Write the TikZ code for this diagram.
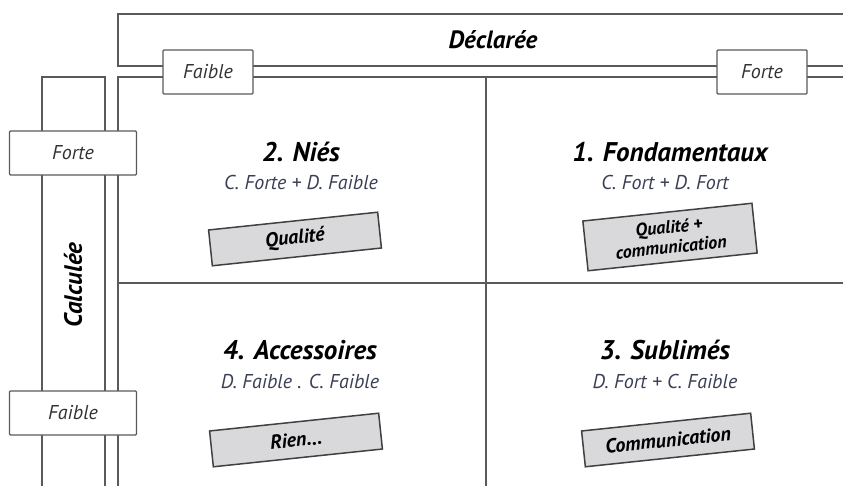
\documentclass[tikz,border=0pt]{standalone}
\usepackage{fontspec}
\setmainfont{PT Sans}
\definecolor{frame}{HTML}{5A5A5A}
\definecolor{subtxt}{HTML}{3A3F55}
\definecolor{boxgray}{HTML}{D9D9DB}
\tikzset{
  band/.style={draw=frame, line width=1.6pt},
  level/.style={
    draw=frame, fill=white, line width=1.4pt, rounded corners=1pt,
    minimum width=90, minimum height=44, inner sep=0pt,
    font=\itshape\fontsize{20}{22}\selectfont, text=black!80
  },
  axis/.style={font=\bfseries\itshape\fontsize{25}{28}\selectfont},
  quad/.style={font=\bfseries\itshape\fontsize{27}{30}\selectfont},
  combo/.style={font=\itshape\fontsize{20}{22}\selectfont, text=subtxt},
  action/.style={
    draw=black!75, fill=boxgray, line width=1.5pt, rotate=6,
    minimum width=170, minimum height=36, inner sep=1pt, align=center,
    font=\bfseries\itshape\fontsize{20}{22}\selectfont
  }
}
\begin{document}
\begin{tikzpicture}[x=1pt,y=-1pt]
  \useasboundingbox (0,0) rectangle (843,486);

  % bands for the two axes
  \draw[band] (850,14) -- (118,14) -- (118,66) -- (850,66);
  \draw[band] (42,490) -- (42,77) -- (105,77) -- (105,490);

  % the four quadrants
  \draw[band] (850,77) -- (118,77) -- (118,490);
  \draw[band] (486,77) -- (486,490);
  \draw[band] (118,283) -- (850,283);

  % axis names
  \node[axis] (decl) at (493,40) {Déclarée};
  \node[axis, rotate=90] (calc) at (73,285) {Calculée};

  % levels on each axis
  \node[level] (declLow) at (208,72) {Faible};
  \node[level] (declHigh) at (762,72) {Forte};
  \node[level, minimum width=127] (calcHigh) at (73,153) {Forte};
  \node[level, minimum width=127] (calcLow) at (73,413) {Faible};

  % quadrant titles
  \node[quad] (nies) at (301,152) {2. Niés};
  \node[combo] (niesSub) at (301,183) {C. Forte + D. Faible};
  \node[quad] (fond) at (670,152) {1. Fondamentaux};
  \node[combo] (fondSub) at (665,183) {C. Fort + D. Fort};
  \node[quad] (acc) at (300,350) {4. Accessoires};
  \node[combo] (accSub) at (300,381) {D. Faible . C. Faible};
  \node[quad] (subl) at (665,350) {3. Sublimés};
  \node[combo] (sublSub) at (665,381) {D. Fort + C. Faible};

  % what to work on
  \node[action] (qual) at (295,239) {Qualité};
  \node[action, minimum height=50, inner sep=0pt,
        font=\bfseries\itshape\fontsize{18}{20}\selectfont]
        (qualcom) at (670,237) {Qualité +\\ communication};
  \node[action] (rien) at (296,440) {Rien...};
  \node[action] (com) at (668,440) {Communication};
\end{tikzpicture}
\end{document}
